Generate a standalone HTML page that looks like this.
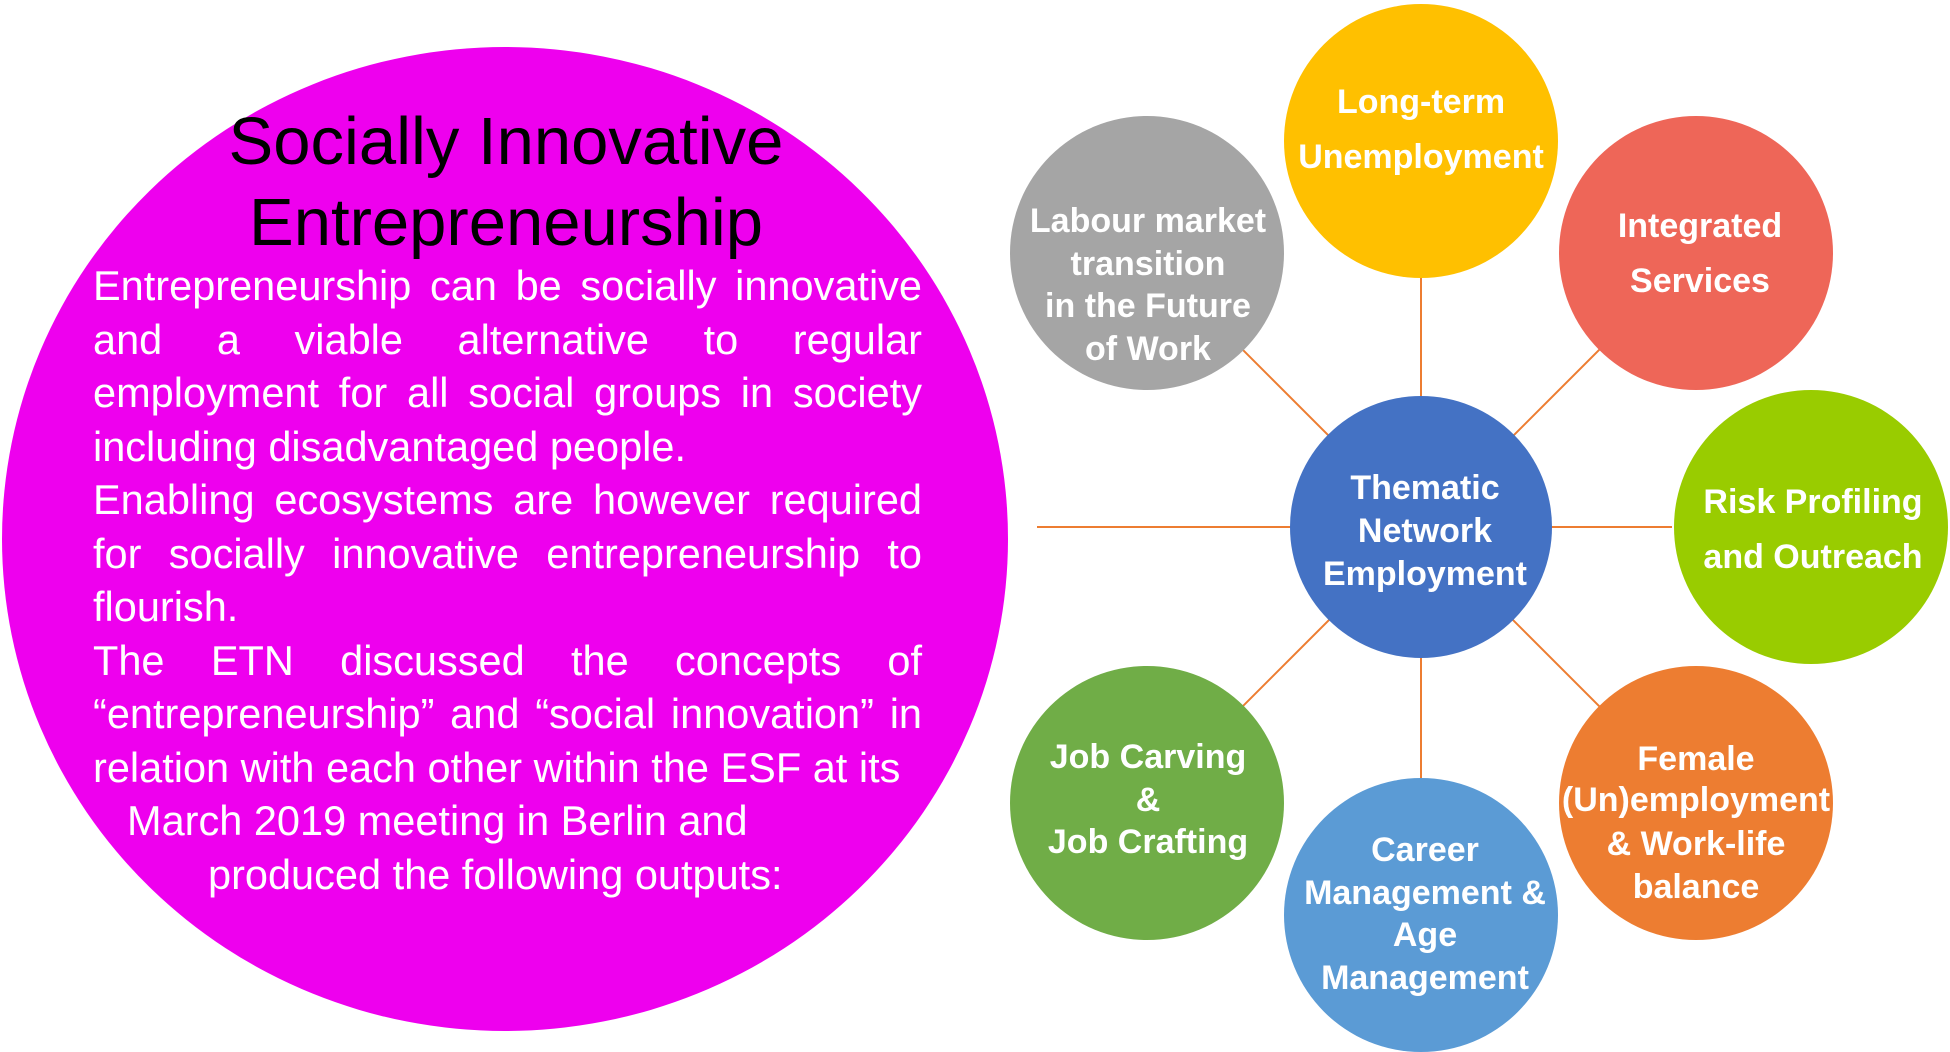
<!DOCTYPE html>
<html><head><meta charset="utf-8"><style>
html,body{margin:0;padding:0;background:#fff;width:1950px;height:1052px;overflow:hidden;position:relative}
svg{display:block;position:absolute;left:0;top:0}
text{font-family:"Liberation Sans",Arial,sans-serif}
.c{fill:#fff;font-size:34px;font-weight:bold;text-anchor:middle}
#body{position:absolute;left:93px;top:259px;width:829px;color:#fff;font-family:"Liberation Sans",Arial,sans-serif;font-size:41.5px;line-height:53.5px}
#body div{white-space:nowrap;text-align:left}
#body div.j{text-align:justify;text-align-last:justify;white-space:normal}
</style></head><body>
<svg width="1950" height="1052" viewBox="0 0 1950 1052" xmlns="http://www.w3.org/2000/svg">
<ellipse cx="505" cy="539" rx="503" ry="492" fill="#ee00ee"/>
<text x="506" y="164" font-size="67" text-anchor="middle" fill="#000">Socially Innovative</text>
<text x="506" y="245" font-size="67" text-anchor="middle" fill="#000">Entrepreneurship</text>

<g stroke="#ed7d31" stroke-width="2">
<line x1="1037" y1="527" x2="1420" y2="527"/>
<line x1="1420" y1="527" x2="1672" y2="527"/>
<line x1="1421" y1="141" x2="1421" y2="915"/>
<line x1="1146" y1="253" x2="1696" y2="803"/>
<line x1="1696" y1="253" x2="1146" y2="803"/>
</g>
<circle cx="1147" cy="253" r="137" fill="#a5a5a5"/>
<circle cx="1421" cy="141" r="137" fill="#ffc000"/>
<circle cx="1696" cy="253" r="137" fill="#ee6658"/>
<circle cx="1811" cy="527" r="137" fill="#99cc00"/>
<circle cx="1696" cy="803" r="137" fill="#ed7d31"/>
<circle cx="1421" cy="915" r="137" fill="#5b9bd5"/>
<circle cx="1147" cy="803" r="137" fill="#70ad47"/>
<circle cx="1421" cy="527" r="131" fill="#4472c4"/>

<text class="c" x="1148" y="232">Labour market</text>
<text class="c" x="1148" y="275">transition</text>
<text class="c" x="1148" y="317">in the Future</text>
<text class="c" x="1148" y="360">of Work</text>
<text class="c" x="1421" y="113">Long-term</text>
<text class="c" x="1421" y="168">Unemployment</text>
<text class="c" x="1700" y="237">Integrated</text>
<text class="c" x="1700" y="292">Services</text>
<text class="c" x="1813" y="513">Risk Profiling</text>
<text class="c" x="1813" y="568">and Outreach</text>
<text class="c" x="1425" y="499">Thematic</text>
<text class="c" x="1425" y="542">Network</text>
<text class="c" x="1425" y="585">Employment</text>
<text class="c" x="1148" y="768">Job Carving</text>
<text class="c" x="1148" y="811">&amp;</text>
<text class="c" x="1148" y="853">Job Crafting</text>
<text class="c" x="1425" y="861">Career</text>
<text class="c" x="1425" y="904">Management &amp;</text>
<text class="c" x="1425" y="946">Age</text>
<text class="c" x="1425" y="989">Management</text>
<text class="c" x="1696" y="770" font-size="37">Female</text>
<text class="c" x="1696" y="811" font-size="29">(Un)employment</text>
<text class="c" x="1696" y="855" font-size="38">&amp; Work-life</text>
<text class="c" x="1696" y="898" font-size="38">balance</text>
</svg>
<div id="body">
<div class="j">Entrepreneurship can be socially innovative</div>
<div class="j">and a viable alternative to regular</div>
<div class="j">employment for all social groups in society</div>
<div>including disadvantaged people.</div>
<div class="j">Enabling ecosystems are however required</div>
<div class="j">for socially innovative entrepreneurship to</div>
<div>flourish.</div>
<div class="j">The ETN discussed the concepts of</div>
<div class="j">“entrepreneurship” and “social innovation” in</div>
<div>relation with each other within the ESF at its</div>
<div style="padding-left:34px">March 2019 meeting in Berlin and</div>
<div style="padding-left:115px">produced the following outputs:</div>
</div>
</body></html>
